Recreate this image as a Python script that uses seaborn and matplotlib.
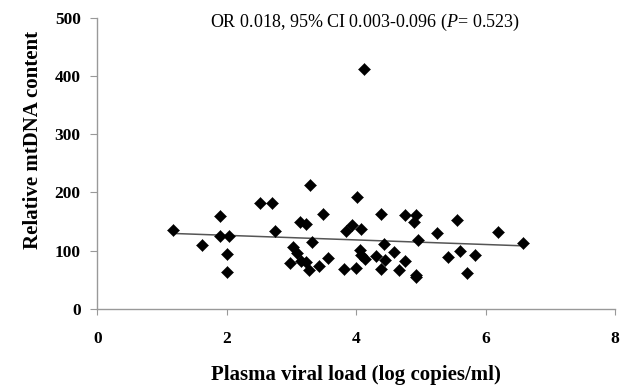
import numpy as np
import pandas as pd
import matplotlib
matplotlib.use("Agg")
import matplotlib.pyplot as plt
import seaborn as sns

# valores
viral_load = [1.17, 1.62, 1.90, 1.89, 2.03, 2.01, 2.01, 2.52, 2.70, 2.74,
              3.28, 4.02, 3.49, 4.38, 3.14, 3.23, 3.94, 3.85, 4.07, 3.32,
              3.03, 3.08, 2.98, 3.15, 3.23, 3.27, 3.42, 3.56, 3.81, 4.00,
              4.06, 4.08, 4.13, 4.30, 4.43, 4.45, 4.38, 4.76, 4.92, 4.90,
              5.56, 5.25, 6.20, 4.95, 4.58, 4.75, 4.66, 4.92, 4.92, 5.42,
              5.61, 5.83, 5.72, 6.58, 4.12]
mtdna = [135, 109, 159, 126, 126, 95, 64, 181, 181, 133,
         213, 192, 163, 163, 150, 145, 144, 133, 137, 115,
         106, 96, 79, 83, 81, 67, 73, 88, 68, 70,
         101, 92, 85, 91, 112, 84, 68, 161, 162, 149,
         152, 131, 132, 118, 97, 83, 67, 59, 55, 90,
         99, 92, 61, 113, 411]

x_ticks = [0, 2, 4, 6, 8]
y_ticks = [0, 100, 200, 300, 400, 500]
stats_text = r"OR 0.018, 95% CI 0.003-0.096 ($\mathit{P}$= 0.523)"

df = pd.DataFrame({'viral': viral_load, 'mtdna': mtdna})

plt.rcParams['font.family'] = ['Liberation Serif', 'DejaVu Serif']
plt.rcParams['mathtext.fontset'] = 'custom'
plt.rcParams['mathtext.rm'] = 'Liberation Serif'
plt.rcParams['mathtext.it'] = 'Liberation Serif:italic'

fig = plt.figure(figsize=(6.29, 3.91), dpi=100)
ax = fig.add_axes([0.1547, 0.2097, 0.8230, 0.7455])

# linea de tendencia (ajuste lineal)
sns.regplot(data=df, x='viral', y='mtdna', scatter=False, ci=None, truncate=True,
            line_kws={'color': '#555555', 'lw': 1.1}, ax=ax)
sns.scatterplot(data=df, x='viral', y='mtdna', marker='D', s=38, color='black',
                edgecolor='black', linewidth=0.3, ax=ax, zorder=3)

ax.set_xlim(0, 8)
ax.set_ylim(0, 500)
ax.set_xticks(x_ticks)
ax.set_yticks(y_ticks)

for s in ['top', 'right']:
    ax.spines[s].set_visible(False)
for s in ['left', 'bottom']:
    ax.spines[s].set_color('#999999')
    ax.spines[s].set_linewidth(1.0)

ax.tick_params(axis='x', direction='out', length=4, color='#999999', pad=12)
ax.tick_params(axis='y', direction='out', length=5, color='#999999', pad=7)
for lab in ax.get_xticklabels() + ax.get_yticklabels():
    lab.set_fontweight('bold')
    lab.set_fontsize(12.5)

ax.set_xlabel('Plasma viral load (log copies/ml)', fontsize=15, fontweight='bold', labelpad=13)
ax.set_ylabel('Relative mtDNA content', fontsize=15, fontweight='bold')
# en el original la etiqueta y esta algo por encima del centro
ax.yaxis.set_label_coords(-0.105, 0.58)

ax.text(4.14, 492, stats_text, ha='center', va='center', fontsize=13)

plt.savefig('out.png', dpi=100)
